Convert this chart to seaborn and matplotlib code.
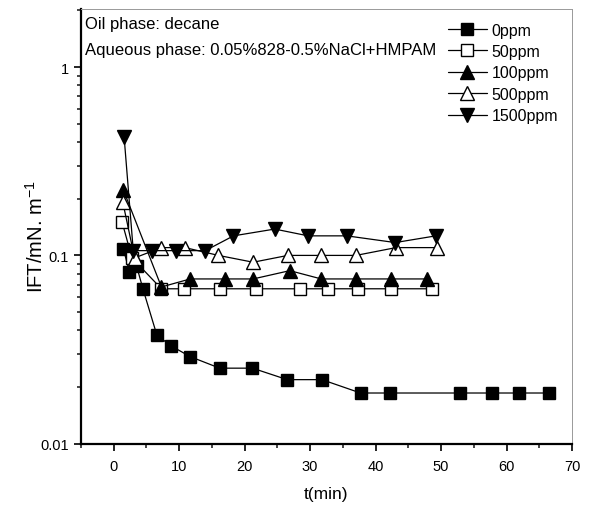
import numpy as np
import pandas as pd
import matplotlib
matplotlib.use('Agg')
import matplotlib.pyplot as plt
import seaborn as sns
from matplotlib.ticker import MultipleLocator, FixedLocator, FixedFormatter, LogLocator, NullFormatter

# IFT vs time
t_0 = [1.5, 2.4, 3.5, 4.5, 6.6, 8.7, 11.7, 16.2, 21.2, 26.5, 31.8, 37.7, 42.2, 52.9, 57.7, 61.9, 66.4]
ift_0 = [0.108, 0.082, 0.088, 0.066, 0.0378, 0.0332, 0.029, 0.0252, 0.0252, 0.0219, 0.0219,
         0.0186, 0.0186, 0.0186, 0.0186, 0.0186, 0.0186]

t_50 = [1.3, 2.8, 7.3, 10.8, 16.2, 21.8, 28.5, 32.8, 37.3, 42.3, 48.6]
ift_50 = [0.150, 0.097, 0.0665, 0.0665, 0.0665, 0.0665, 0.0665, 0.0665, 0.0665, 0.0665, 0.0665]

t_100 = [1.5, 7.3, 11.7, 17.0, 21.3, 26.9, 31.7, 37.0, 42.4, 47.9]
ift_100 = [0.222, 0.068, 0.075, 0.075, 0.075, 0.083, 0.075, 0.075, 0.075, 0.075]

t_500 = [1.4, 3.2, 7.3, 10.9, 16.0, 21.3, 26.6, 31.7, 37.0, 43.1, 49.4]
ift_500 = [0.192, 0.097, 0.110, 0.110, 0.100, 0.092, 0.100, 0.100, 0.100, 0.110, 0.110]

t_1500 = [1.6, 3.0, 5.8, 9.6, 14.0, 18.3, 24.6, 29.7, 35.6, 43.0, 49.2]
ift_1500 = [0.427, 0.106, 0.106, 0.106, 0.106, 0.127, 0.138, 0.127, 0.127, 0.117, 0.127]

series = [
    ('0ppm', t_0, ift_0, 's', 'black', 8),
    ('50ppm', t_50, ift_50, 's', 'white', 8),
    ('100ppm', t_100, ift_100, '^', 'black', 9.5),
    ('500ppm', t_500, ift_500, '^', 'white', 9.5),
    ('1500ppm', t_1500, ift_1500, 'v', 'black', 9.5),
]

sns.set_style('ticks')
plt.rcParams['font.family'] = ['Liberation Sans', 'DejaVu Sans']
plt.rcParams['mathtext.fontset'] = 'custom'
plt.rcParams['mathtext.rm'] = 'Liberation Sans'
plt.rcParams['text.color'] = 'black'
plt.rcParams['axes.labelcolor'] = 'black'

fig = plt.figure(figsize=(6.08, 5.06), dpi=100)
ax = fig.add_axes([0.133, 0.121, 0.808, 0.859])

for name, t, v, mk, fc, ms in series:
    sns.lineplot(x=t, y=v, ax=ax, color='black', linewidth=0.9, marker=mk,
                 markersize=ms, markerfacecolor=fc, markeredgecolor='black',
                 markeredgewidth=1.0, label=name)

ax.set_yscale('log')
ax.set_xlim(-5, 70)
ax.set_ylim(0.01, 2.03)

ax.xaxis.set_major_locator(MultipleLocator(10))
ax.xaxis.set_minor_locator(MultipleLocator(5))
ax.yaxis.set_major_locator(FixedLocator([0.01, 0.1, 1]))
ax.yaxis.set_major_formatter(FixedFormatter(['0.01', '0.1', '1']))
ax.yaxis.set_minor_locator(LogLocator(base=10, subs=np.arange(2, 10)))
ax.yaxis.set_minor_formatter(NullFormatter())

ax.tick_params(axis='both', which='major', direction='out', length=5, width=1.2,
               labelsize=10.5, colors='black')
ax.tick_params(axis='x', which='major', pad=6)
ax.tick_params(axis='both', which='minor', direction='out', length=3, width=1.2)
ax.tick_params(top=False, right=False, which='both')

for s in ['left', 'bottom']:
    ax.spines[s].set_linewidth(1.6)
    ax.spines[s].set_color('black')
for s in ['top', 'right']:
    ax.spines[s].set_linewidth(0.7)
    ax.spines[s].set_color('#999999')

ax.set_xlabel('t(min)', fontsize=12.5, labelpad=9)
ax.set_ylabel('IFT/mN. m$^{-1}$', fontsize=14.5)
ax.yaxis.set_label_coords(-0.07, 0.478)

ax.text(0.008, 0.968, 'Oil phase: decane', transform=ax.transAxes,
        ha='left', va='center', fontsize=12)
ax.text(0.008, 0.908, 'Aqueous phase: 0.05%828-0.5%NaCl+HMPAM', transform=ax.transAxes,
        ha='left', va='center', fontsize=12)

ax.legend(loc='upper left', bbox_to_anchor=(0.748, 0.969), frameon=False, fontsize=11.5,
          handlelength=2.4, handletextpad=0.3, labelspacing=0.4, borderaxespad=0,
          borderpad=0)

fig.savefig('out.png', dpi=100)
